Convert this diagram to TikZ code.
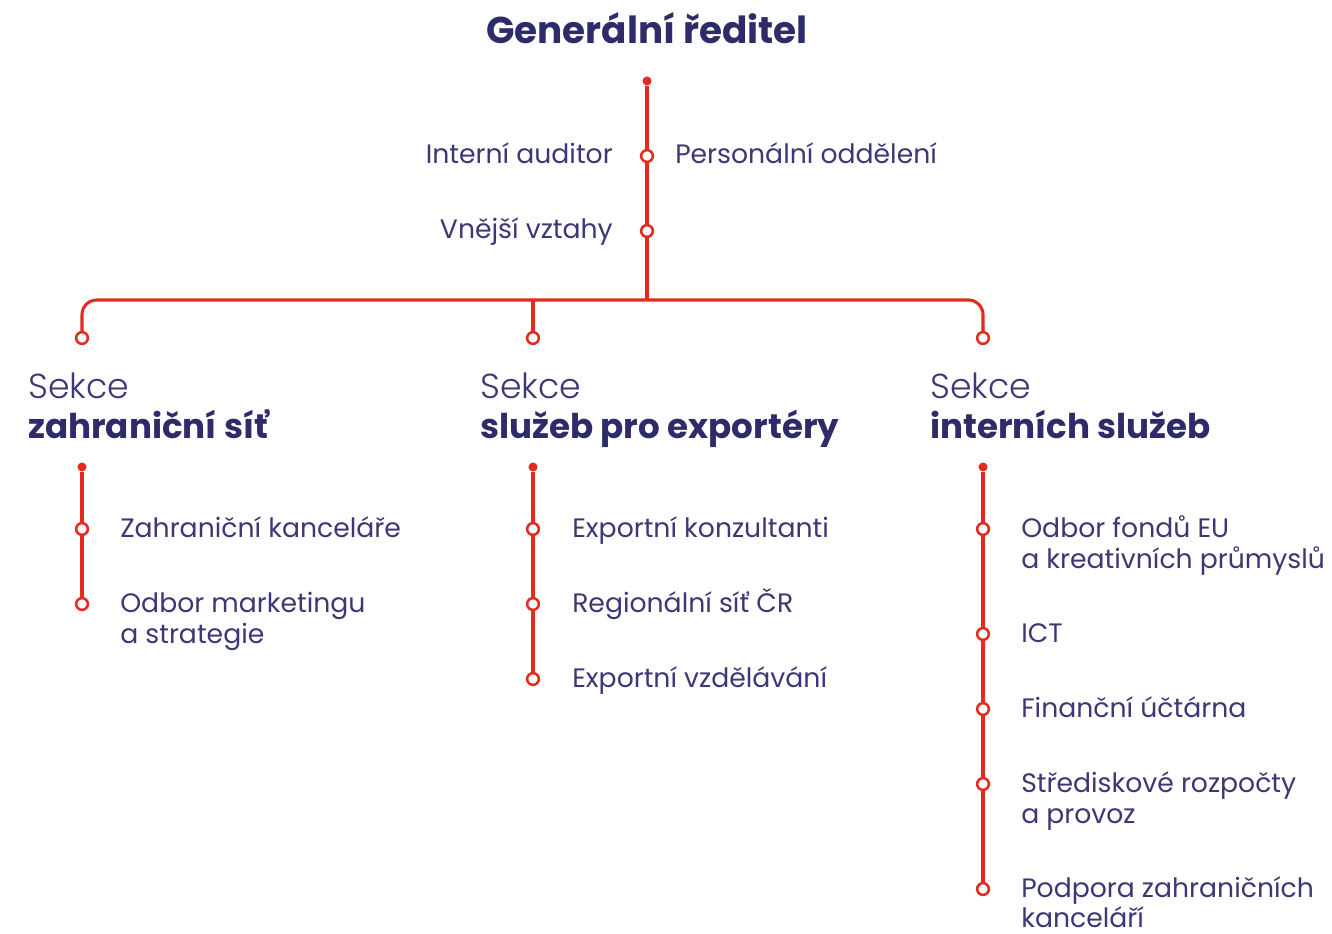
\documentclass[tikz,border=0pt]{standalone}
\usepackage{fontspec}
\setmainfont{Poppins}
\newfontfamily\plight{Poppins Light}
\definecolor{navy}{HTML}{2E2B6B}
\definecolor{itemc}{HTML}{3A3875}
\definecolor{ared}{HTML}{E52A20}
\begin{document}
\begin{tikzpicture}[x=0.75pt,y=-0.75pt,
  link/.style={draw=ared,line width=2.3pt},
  hub/.style={circle,draw=ared,fill=white,line width=1.9pt,minimum size=8.8pt,inner sep=0pt},
  rootdot/.style={circle,fill=ared,minimum size=6.8pt,inner sep=0pt},
  item/.style={inner sep=0pt,text=itemc,font=\fontsize{20}{24}\selectfont},
  itemw/.style={item,anchor=base west},
  iteme/.style={item,anchor=base east},
  sek/.style={anchor=base west,inner sep=0pt,text=itemc,font=\plight\fontsize{26}{32}\selectfont},
  sekb/.style={anchor=base west,inner sep=0pt,text=navy,font=\bfseries\fontsize{25.6}{32}\selectfont},
  title/.style={anchor=base,inner sep=0pt,text=navy,font=\bfseries\fontsize{28}{32}\selectfont}]
\useasboundingbox (0,0) rectangle (1332,934);

% title and top stem
\node[title] (gr) at (647,44) {Generální ředitel};
\node[rootdot] (top) at (647,81) {};
\node[hub] (a1) at (647,156) {};
\node[hub] (a2) at (647,231) {};
\coordinate (jn) at (647,300);
\draw[link] (top) -- (a1);
\draw[link] (a1) -- (a2);
\draw[link] (a2) -- (jn);
\node[iteme] (t1) at (613,164) {Interní auditor};
\node[itemw] (t2) at (675,164) {Personální oddělení};
\node[iteme] (t3) at (613,239) {Vnější vztahy};

% branches
\node[hub] (s1) at (82,338) {};
\node[hub] (s2) at (533,338) {};
\node[hub] (s3) at (983,338) {};
\draw[link,rounded corners=11pt] (s1) |- (jn) -| (s3);
\draw[link] (s2) -- (s2 |- jn);

% section headings
\node[sek] (h1) at (28,398) {Sekce};
\node[sekb] (h1b) at (28,438) {zahraniční síť};
\node[sek] (h2) at (480,398) {Sekce};
\node[sekb] (h2b) at (480,438) {služeb pro exportéry};
\node[sek] (h3) at (930,398) {Sekce};
\node[sekb] (h3b) at (930,438) {interních služeb};

% column 1
\node[rootdot] (c1) at (82,467) {};
\node[hub] (c11) at (82,529) {};
\node[hub] (c12) at (82,604) {};
\draw[link] (c1) -- (c11);
\draw[link] (c11) -- (c12);
\node[itemw] (c11t) at (120,537) {Zahraniční kanceláře};
\node[itemw] (c12t) at (120,612) {Odbor marketingu};
\node[itemw] (c12u) at (120,643) {a strategie};

% column 2
\node[rootdot] (c2) at (533,467) {};
\node[hub] (c21) at (533,529) {};
\node[hub] (c22) at (533,604) {};
\node[hub] (c23) at (533,679) {};
\draw[link] (c2) -- (c21);
\draw[link] (c21) -- (c22);
\draw[link] (c22) -- (c23);
\node[itemw] (c21t) at (572,537) {Exportní konzultanti};
\node[itemw] (c22t) at (572,612) {Regionální síť ČR};
\node[itemw] (c23t) at (572,687) {Exportní vzdělávání};

% column 3
\node[rootdot] (c3) at (983,467) {};
\node[hub] (c31) at (983,529) {};
\node[hub] (c32) at (983,634) {};
\node[hub] (c33) at (983,709) {};
\node[hub] (c34) at (983,784) {};
\node[hub] (c35) at (983,889) {};
\draw[link] (c3) -- (c31);
\draw[link] (c31) -- (c32);
\draw[link] (c32) -- (c33);
\draw[link] (c33) -- (c34);
\draw[link] (c34) -- (c35);
\node[itemw] (c31t) at (1021,537) {Odbor fondů EU};
\node[itemw] (c31u) at (1021,568) {a kreativních průmyslů};
\node[itemw] (c32t) at (1021,642) {ICT};
\node[itemw] (c33t) at (1021,717) {Finanční účtárna};
\node[itemw] (c34t) at (1021,792) {Střediskové rozpočty};
\node[itemw] (c34u) at (1021,823) {a provoz};
\node[itemw] (c35t) at (1021,897) {Podpora zahraničních};
\node[itemw,text depth=0pt] (c35u) at (1021,927) {kanceláří};
\end{tikzpicture}
\end{document}
